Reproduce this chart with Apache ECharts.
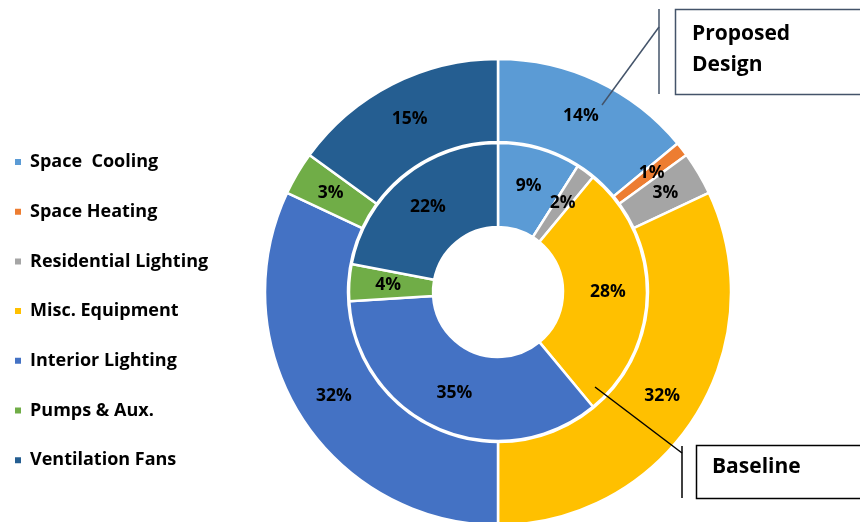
<!DOCTYPE html>
<html>
<head>
<meta charset="utf-8">
<script src="https://cdn.jsdelivr.net/npm/echarts@6/dist/echarts.min.js"></script>
<style>
html,body{margin:0;padding:0;background:#fff;}
#chart{width:860px;height:522px;}
</style>
</head>
<body>
<div id="chart"></div>
<script>
var categories = ['Space  Cooling','Space Heating','Residential Lighting','Misc. Equipment','Interior Lighting','Pumps & Aux.','Ventilation Fans'];
var proposedValues = [14, 1, 3, 32, 32, 3, 15];
var baselineValues = [9, 0, 2, 28, 35, 4, 22];
var colors = ['#5B9BD5','#ED7D31','#A5A5A5','#FFC000','#4472C4','#70AD47','#255E91'];

var FONT = '"Open Sans"';

function buildData(vals){
  return categories.map(function(c,i){
    var d = {name:c, value:vals[i]};
    if (vals[i] === 0) d.label = {show:false};
    return d;
  });
}

var labelStyle = {
  show: true,
  position: 'inside',
  formatter: function(p){ return p.value + '%'; },
  fontFamily: FONT,
  fontWeight: 'bold',
  fontSize: 17.5,
  color: '#000'
};

var chart = echarts.init(document.getElementById('chart'), null, {renderer:'canvas'});
chart.setOption({
  animation: false,
  color: colors,
  legend: {
    orient: 'vertical',
    left: 8,
    top: 148,
    itemWidth: 8,
    itemHeight: 8,
    itemGap: 31.7,
    icon: 'rect',
    data: categories,
    textStyle: {fontFamily: FONT, fontWeight: 'bold', fontSize: 18, color: '#000', lineHeight: 18, padding:[0,0,0,3]}
  },
  series: [
    {
      name: 'Proposed Design',
      type: 'pie',
      center: [498, 292],
      radius: [150, 233],
      startAngle: 90,
      clockwise: true,
      avoidLabelOverlap: false,
      itemStyle: {borderColor: '#fff', borderWidth: 2.5},
      label: labelStyle,
      labelLine: {show:false},
      emphasis: {disabled:true},
      data: buildData(proposedValues)
    },
    {
      name: 'Baseline',
      type: 'pie',
      center: [498, 292],
      radius: [65, 149],
      startAngle: 90,
      clockwise: true,
      avoidLabelOverlap: false,
      itemStyle: {borderColor: '#fff', borderWidth: 2.5},
      label: labelStyle,
      labelLine: {show:false},
      emphasis: {disabled:true},
      data: buildData(baselineValues)
    }
  ],
  graphic: [
    {type:'rect', shape:{x:675.5, y:9.5, width:190, height:85}, style:{fill:'#fff', stroke:'#44546A', lineWidth:1.5}, z:100},
    {type:'line', shape:{x1:659, y1:9, x2:659, y2:94}, style:{stroke:'#44546A', lineWidth:1.5}, z:100},
    {type:'line', shape:{x1:659, y1:27, x2:602, y2:105}, style:{stroke:'#44546A', lineWidth:1.5}, z:100},
    {type:'text', left:692, top:19, style:{text:'Proposed\nDesign', fontFamily:FONT, fontWeight:'bold', fontSize:21, lineHeight:31, fill:'#000'}, z:101},
    {type:'rect', shape:{x:696.5, y:445.5, width:170, height:53}, style:{fill:'#fff', stroke:'#000', lineWidth:1.5}, z:100},
    {type:'line', shape:{x1:682, y1:446, x2:682, y2:498}, style:{stroke:'#000', lineWidth:1.5}, z:100},
    {type:'line', shape:{x1:595, y1:387, x2:682, y2:453}, style:{stroke:'#000', lineWidth:1.5}, z:100},
    {type:'text', left:712, top:457, style:{text:'Baseline', fontFamily:FONT, fontWeight:'bold', fontSize:21, fill:'#000'}, z:101}
  ]
});
</script>
</body>
</html>
